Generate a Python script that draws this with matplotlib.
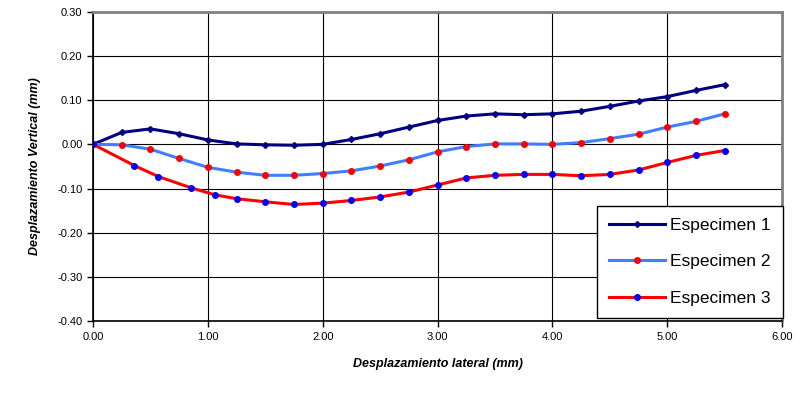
import matplotlib
matplotlib.use("Agg")
import matplotlib.pyplot as plt
import numpy as np

plt.rcParams['font.family'] = ['Liberation Sans', 'DejaVu Sans']

x1 = [0, 0.25, 0.5, 0.75, 1.0, 1.25, 1.5, 1.75, 2.0, 2.25, 2.5, 2.75, 3.0,
      3.25, 3.5, 3.75, 4.0, 4.25, 4.5, 4.75, 5.0, 5.25, 5.5]
esp1 = [0, 0.027, 0.035, 0.024, 0.010, 0.001, -0.001, -0.002, 0.0, 0.011, 0.024,
        0.039, 0.054, 0.064, 0.069, 0.067, 0.069, 0.075, 0.086, 0.098, 0.108,
        0.122, 0.135]
esp2 = [0, -0.001, -0.011, -0.032, -0.052, -0.063, -0.070, -0.070, -0.066, -0.060,
        -0.049, -0.035, -0.017, -0.005, 0.001, 0.001, 0.0, 0.004, 0.013, 0.023,
        0.039, 0.052, 0.069]
x3 = [0, 0.36, 0.57, 0.85, 1.06, 1.25, 1.5, 1.75, 2.0, 2.25, 2.5, 2.75, 3.0,
      3.25, 3.5, 3.75, 4.0, 4.25, 4.5, 4.75, 5.0, 5.25, 5.5]
esp3 = [0, -0.048, -0.073, -0.098, -0.114, -0.123, -0.130, -0.136, -0.133, -0.127,
        -0.119, -0.108, -0.092, -0.076, -0.070, -0.068, -0.068, -0.071, -0.068,
        -0.058, -0.041, -0.025, -0.014]

xticks = np.arange(0, 6.01, 1.0)
yticks = np.round(np.arange(-0.4, 0.301, 0.1), 2)

fig = plt.figure(figsize=(8.04, 4.05), dpi=100)
ax = fig.add_axes([0.1157, 0.207, 0.857, 0.764])

ax.plot(x1, esp1, color='#000080', lw=2.2, marker='D', ms=3,
        mfc='#000080', mec='#000080', label='Especimen 1')
ax.plot(x1, esp2, color='#3F7FFF', lw=2.2, marker='o', ms=4,
        mfc='#FF0000', mec='#FF0000', label='Especimen 2')
ax.plot(x3, esp3, color='#FF0000', lw=2.2, marker='o', ms=4,
        mfc='#0000FF', mec='#0000FF', label='Especimen 3')

ax.set_xlim(0, 6)
ax.set_ylim(-0.4, 0.3)
ax.set_xticks(xticks)
ax.set_yticks(yticks)
ax.set_xticklabels([f'{v:.2f}' for v in xticks], fontsize=8)
ax.set_yticklabels([f'{abs(v) if v == 0 else v:.2f}' for v in yticks], fontsize=8)
ax.grid(True, color='black', lw=0.8)
ax.set_axisbelow(True)
ax.tick_params(direction='out', length=4, width=1, color='black')

for s in ['top', 'right']:
    ax.spines[s].set_color('#808080')
    ax.spines[s].set_linewidth(2)
for s in ['left', 'bottom']:
    ax.spines[s].set_color('black')
    ax.spines[s].set_linewidth(1.2)

ax.set_xlabel('Desplazamiento lateral (mm)', fontsize=9, fontweight='bold',
              style='italic', labelpad=12)
ax.set_ylabel('Desplazamiento Vertical (mm)', fontsize=9, fontweight='bold',
              style='italic', labelpad=12)

leg = ax.legend(loc='lower right', bbox_to_anchor=(0.974, 0.214),
                bbox_transform=fig.transFigure, fontsize=12.5, fancybox=False,
                framealpha=1, edgecolor='black', handlelength=3.2,
                labelspacing=1.22, borderpad=0.72, handletextpad=0.3,
                borderaxespad=0)
leg.get_frame().set_linewidth(1)

fig.savefig('out.png', dpi=100)
